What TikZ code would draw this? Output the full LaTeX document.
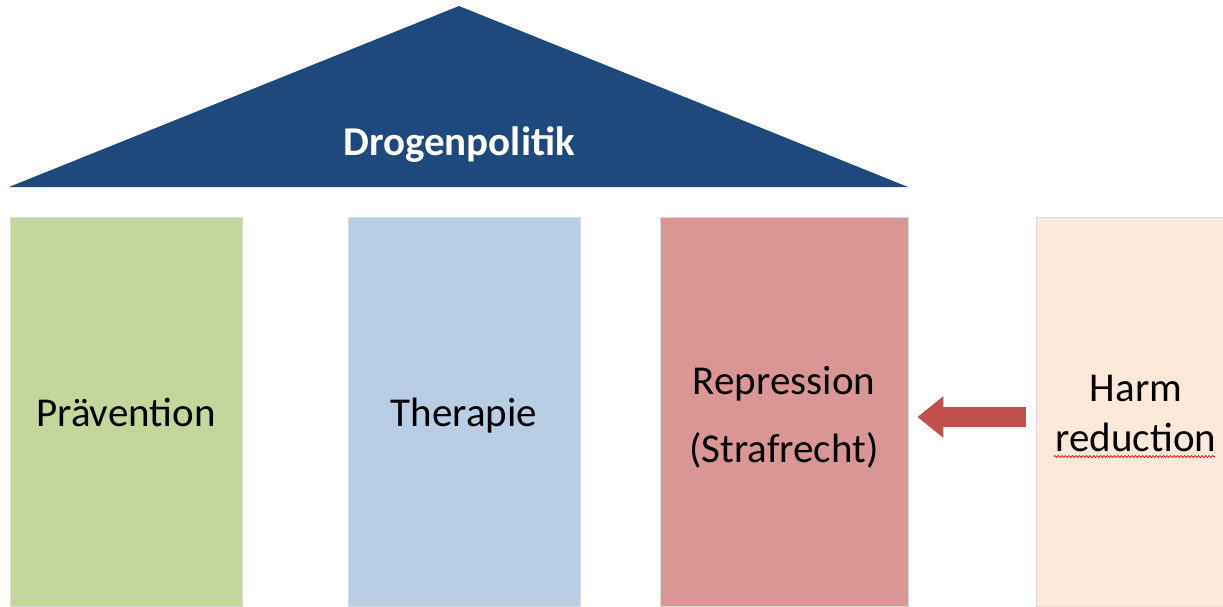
\documentclass[tikz,border=0pt]{standalone}
\usepackage{fontspec}
\setmainfont{Carlito}
\usetikzlibrary{arrows.meta,decorations.pathmorphing}
\definecolor{roofblue}{HTML}{1F497D}
\definecolor{pgreen}{HTML}{C3D69B}
\definecolor{pblue}{HTML}{B9CDE5}
\definecolor{pred}{HTML}{D99694}
\definecolor{ppeach}{HTML}{FDE9D9}
\definecolor{arrowred}{HTML}{C0504D}
\definecolor{edgegray}{HTML}{D9D9D9}
\begin{document}
\begin{tikzpicture}[x=1pt,y=-1pt,
  pillar/.style={draw=edgegray, line width=0.8pt, minimum height=389pt, inner sep=0pt},
  ptext/.style={align=center, inner sep=0pt, font=\fontsize{41}{50}\selectfont, text=black},
  bigarrow/.style={draw=arrowred, line width=20pt, -{Triangle[length=26pt,width=40pt]}}]
\useasboundingbox (0,0) rectangle (1223,606);
% roof
\coordinate (apex) at (459,6);
\coordinate (bl) at (9,187);
\coordinate (br) at (908,187);
\fill[roofblue] (bl) -- (apex) -- (br) -- cycle;
\node[text=white, font=\fontsize{41}{50}\selectfont\bfseries] (title) at (459,145) {Drogenpolitik};
% pillars
\node[pillar, fill=pgreen, minimum width=232pt] (prae) at (126,411.5) {};
\node[pillar, fill=pblue, minimum width=232pt] (ther) at (464,411.5) {};
\node[pillar, fill=pred, minimum width=248pt] (rep) at (784,411.5) {};
\node[pillar, fill=ppeach, minimum width=200pt] (harm) at (1136,411.5) {};
\node[ptext] (praet) at ([yshift=-1pt]prae.center) {Prävention};
\node[ptext] (thert) at ([yshift=-4pt]ther.center) {Therapie};
\node[ptext] (rept) at ([yshift=-6pt]rep.center) {Repression\\[18pt](Strafrecht)};
\node[ptext] (harmt) at ([yshift=-2pt]harm.center) {Harm\\reduction};
% arrow
\coordinate (ay) at (0,417);
\draw[bigarrow, shorten <=10pt, shorten >=9pt] (harm.west |- ay) -- (rep.east |- ay);
% spell-check underline
\draw[red!85!black, line width=0.7pt, decorate, decoration={snake, segment length=3.5pt, amplitude=0.9pt}] (1054,456.5) -- (1215,456.5);
\end{tikzpicture}
\end{document}
